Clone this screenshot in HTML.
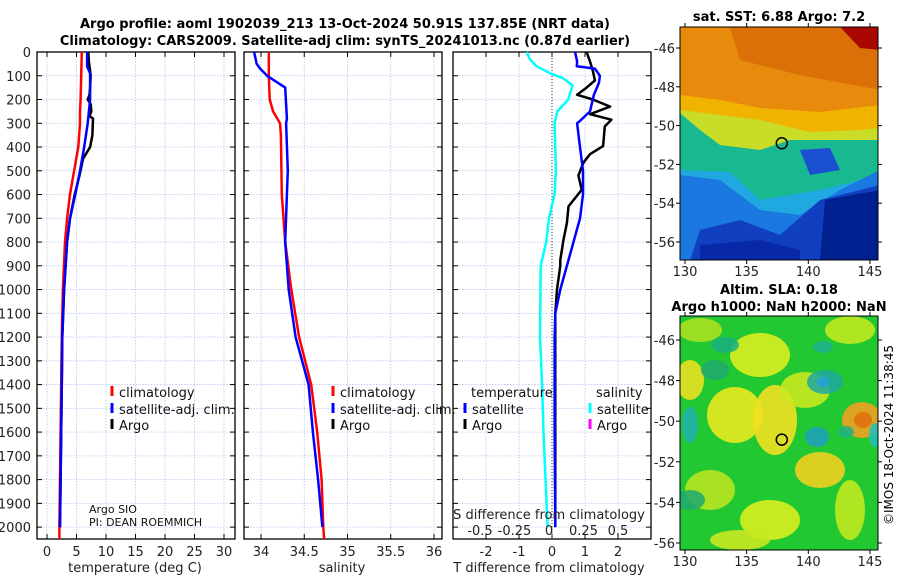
<!DOCTYPE html>
<html><head><meta charset="utf-8"><style>
html,body{margin:0;padding:0;background:#fff;}
svg{display:block;font-family:"DejaVu Sans","Liberation Sans",sans-serif;}
</style></head><body>
<svg id="fig" width="900" height="580" viewBox="0 0 900 580">
<g id="titles" font-weight="bold" font-size="13" text-anchor="middle" fill="#000">
<text x="345" y="28">Argo profile: aoml 1902039_213 13-Oct-2024 50.91S 137.85E (NRT data)</text>
<text x="345" y="45">Climatology: CARS2009. Satellite-adj clim: synTS_20241013.nc (0.87d earlier)</text>
<text x="779" y="21">sat. SST: 6.88 Argo: 7.2</text>
<text x="779" y="294">Altim. SLA: 0.18</text>
<text x="779" y="311">Argo h1000: NaN h2000: NaN</text>
</g>
<g id="panels"></g>
<g id="maps"></g>
<text transform="translate(893,435) rotate(-90)" text-anchor="middle" font-size="12">©IMOS 18-Oct-2024 11:38:45</text>
</svg>
<script>
// ---- data ----
const depthTicks = [0,100,200,300,400,500,600,700,800,900,1000,1100,1200,1300,1400,1500,1600,1700,1800,1900,2000];
const tempTicks = [0,5,10,15,20,25,30];
const salTicks = [34,34.5,35,35.5,36];
const tdiffTicks = [-2,-1,0,1,2];
const sdiffTicks = [-0.5,-0.25,0,0.25,0.5];

const tClimDepth = [0,100,200,250,300,400,500,600,700,800,1000,1200,1400,1600,1800,2000,2050];
const tClimVal   = [5.9,5.8,5.7,5.6,5.6,5.3,4.6,3.9,3.4,3.05,2.7,2.5,2.4,2.3,2.2,2.1,2.1];
const tSatDepth = [0,60,90,200,300,400,500,600,700,800,1000,1200,1400,1600,1800,2000];
const tSatVal   = [6.8,6.8,7.3,7.3,6.9,6.3,5.6,4.8,3.9,3.4,2.9,2.6,2.5,2.4,2.3,2.2];
const tArgoDepth = [0,40,100,150,180,200,220,250,270,280,350,400,450,520,600,700,800,1000,1200,1400,1600,1800,2000];
const tArgoVal   = [7.0,7.1,7.4,7.3,7.2,6.9,7.4,7.5,7.2,7.8,7.7,7.3,6.1,5.5,4.7,3.9,3.4,2.9,2.6,2.5,2.4,2.3,2.2];

const sClimDepth = [0,100,200,250,300,350,600,800,1000,1200,1400,1600,1800,2000,2050];
const sClimVal   = [34.09,34.09,34.1,34.14,34.22,34.23,34.24,34.28,34.35,34.44,34.58,34.65,34.70,34.72,34.73];
const sSatDepth = [0,50,70,100,150,280,300,500,600,800,1000,1200,1400,1600,1800,2000];
const sSatVal   = [33.92,33.95,33.99,34.07,34.28,34.3,34.29,34.31,34.3,34.28,34.32,34.4,34.55,34.6,34.66,34.71];

const dTSatDepth = [0,40,60,70,100,130,180,250,290,300,400,500,600,700,800,900,1000,1100,1200,1600,2000];
const dTSatVal   = [0.7,0.76,0.75,1.3,1.45,1.42,1.27,1.15,0.85,0.76,0.85,0.94,0.94,0.85,0.65,0.45,0.25,0.1,0.08,0.08,0.1];
const dTArgoDepth = [0,40,80,120,150,180,200,230,262,285,313,396,430,466,520,580,650,720,790,875,900,1000,1100,1400,2000];
const dTArgoVal   = [1.05,1.15,1.24,1.3,1.05,0.76,1.24,1.76,1.15,1.8,1.6,1.55,1.15,0.95,0.8,0.9,0.5,0.45,0.35,0.25,0.25,0.15,0.1,0.1,0.1];
const dSSatDepth = [0,30,60,90,110,140,200,250,300,500,600,700,800,900,1200,1400,1600,2000];
const dSSatVal   = [-0.16,-0.14,-0.09,0.01,0.1,0.17,0.14,0.06,0.04,0.05,0.04,0.0,-0.02,-0.06,-0.065,-0.05,-0.04,-0.01];

// ---- geometry ----
const NS='http://www.w3.org/2000/svg';
const TOP=52, BOT=539, DMAX=2050;
const yD = d => TOP + d*(BOT-TOP)/DMAX;
const panels = [
 {x0:37,x1:235,name:'temperature-panel'},
 {x0:244,x1:442,name:'salinity-panel'},
 {x0:453,x1:651,name:'difference-panel'}
];
const xT = v => 47 + v*5.9;
const xS = v => 261 + (v-34)*86.5;
const xDT = v => 552 + v*33;
const xDS = v => 549 + v*138;
const root=document.getElementById('panels');
function el(tag,attrs,parent){const e=document.createElementNS(NS,tag);for(const k in attrs)e.setAttribute(k,attrs[k]);(parent||root).appendChild(e);return e;}
function txt(s,x,y,attrs,parent){const t=el('text',Object.assign({x:x,y:y},attrs||{}),parent);t.textContent=s;return t;}

panels.forEach((p,i)=>{
  const g=el('g',{});
  
  
  // horizontal grid
  depthTicks.forEach(d=>{
    const l=el('line',{x1:p.x0,x2:p.x1,y1:yD(d),y2:yD(d),stroke:'#b8c4f0','stroke-width':0.8,'stroke-dasharray':'1.5,1.5'},g);
    
    
    el('line',{x1:p.x0,x2:p.x0+5,y1:yD(d),y2:yD(d),stroke:'#000'},g);
    el('line',{x1:p.x1,x2:p.x1-5,y1:yD(d),y2:yD(d),stroke:'#000'},g);
  });
  const ticks = i==0?tempTicks:i==1?salTicks:tdiffTicks;
  const fx = i==0?xT:i==1?xS:xDT;
  ticks.forEach(v=>{
    const x=fx(v);
    el('line',{x1:x,x2:x,y1:TOP,y2:BOT,stroke:'#b8c4f0','stroke-width':0.8,'stroke-dasharray':'1.5,1.5'},g);
    el('line',{x1:x,x2:x,y1:BOT,y2:BOT-5,stroke:'#000'},g);
    el('line',{x1:x,x2:x,y1:TOP,y2:TOP+5,stroke:'#000'},g);
    const t=txt(String(v),x,556,{'font-size':13,'text-anchor':'middle',fill:'#222'},g);
    
    
  });
  const fr=el('rect',{x:p.x0,y:TOP,width:p.x1-p.x0,height:BOT-TOP,fill:'none',stroke:'#000','stroke-width':1.3},g);
  
  
});
// y tick labels
depthTicks.forEach(d=>{
  const t=txt(String(d),31,yD(d)+5,{'font-size':13,'text-anchor':'end',fill:'#222'});
  
  
});
// x axis titles
[['temperature (deg C)',135,'temperature-axis-title'],['salinity',342,'salinity-axis-title'],['T difference from climatology',549,'t-diff-axis-title']].forEach(a=>{
  const t=txt(a[0],a[1],572,{'font-size':13,'text-anchor':'middle',fill:'#222'});
  
  
});
// zero line in diff panel
const zl=el('line',{x1:xDT(0),x2:xDT(0),y1:TOP,y2:BOT,stroke:'#333','stroke-width':1,'stroke-dasharray':'1,2'});



function series(depths,vals,fx,color,name,w){
  const pts=depths.map((d,k)=>fx(vals[k]).toFixed(1)+','+yD(d).toFixed(1)).join(' ');
  const pl=el('polyline',{points:pts,fill:'none',stroke:color,'stroke-width':w||2.5,'stroke-linejoin':'round'});
  
  
}
series(tClimDepth,tClimVal,xT,'#ff0000','temp-climatology-line');
series(tArgoDepth,tArgoVal,xT,'#000000','temp-argo-line');
series(tSatDepth,tSatVal,xT,'#0000ff','temp-satellite-line');
series(sClimDepth,sClimVal,xS,'#ff0000','sal-climatology-line');
series(sSatDepth,sSatVal,xS,'#0000ff','sal-satellite-line');
series(dSSatDepth,dSSatVal,xDS,'#00ffff','sdiff-satellite-line');
series(dTArgoDepth,dTArgoVal,xDT,'#000000','tdiff-argo-line');
series(dTSatDepth,dTSatVal,xDT,'#0000ff','tdiff-satellite-line');

// S diff axis inside
const sdt=txt('S difference from climatology',549,519,{'font-size':13,'text-anchor':'middle',fill:'#222'});


sdiffTicks.forEach(v=>{
  const t=txt(String(v),xDS(v),535,{'font-size':13,'text-anchor':'middle',fill:'#222'});
  
  
});

// legends
function legend(x,y,color,label,name){
  const g=el('g',{});
  
  
  el('line',{x1:x,x2:x,y1:y-6,y2:y+4,stroke:color,'stroke-width':3},g);
  txt(label,x+7,y+5,{'font-size':13,fill:'#111'},g);
}
legend(112,392,'#ff0000','climatology','legend-temp-climatology');
legend(112,409,'#0000ff','satellite-adj. clim.','legend-temp-satellite');
legend(112,425,'#000000','Argo','legend-temp-argo');
legend(333,392,'#ff0000','climatology','legend-sal-climatology');
legend(333,409,'#0000ff','satellite-adj. clim.','legend-sal-satellite');
legend(333,425,'#000000','Argo','legend-sal-argo');
const lh1=txt('temperature',471,397,{'font-size':13,fill:'#111'});


const lh2=txt('salinity',596,397,{'font-size':13,fill:'#111'});


legend(465,409,'#0000ff','satellite','legend-tdiff-satellite');
legend(465,425,'#000000','Argo','legend-tdiff-argo');
legend(590,409,'#00ffff','satellite','legend-sdiff-satellite');
legend(590,425,'#ff00ff','Argo','legend-sdiff-argo');
const pi1=txt('Argo SIO',89,513,{'font-size':11,fill:'#111'});


const pi2=txt('PI: DEAN ROEMMICH',89,526,{'font-size':11,fill:'#111'});



// ---- maps ----
const M=document.getElementById('maps');
const latTicks=[-46,-48,-50,-52,-54,-56];
const lonTicks=[130,135,140,145];
const mapX0=680, mapX1=878;
const xLon = v => 685 + (v-130)*12.33;
function drawMap(y0,y1,ylat,shapes,name,markLat,markLon){
  const g=el('g',{},M);
  
  
  const cp='clip-'+name;
  const c=el('clipPath',{id:cp},g);
  el('rect',{x:mapX0,y:y0,width:mapX1-mapX0,height:y1-y0},c);
  const s=el('g',{'clip-path':'url(#'+cp+')'},g);
  shapes(s,y0,y1);
  el('rect',{x:mapX0,y:y0,width:mapX1-mapX0,height:y1-y0,fill:'none',stroke:'#000','stroke-width':1},g);
  latTicks.forEach(v=>{
    const y=ylat(v);
    el('line',{x1:mapX0-4,x2:mapX0,y1:y,y2:y,stroke:'#000'},g);
    el('line',{x1:mapX1,x2:mapX1+4,y1:y,y2:y,stroke:'#000'},g);
    const t=txt(String(v),675,y+5,{'font-size':13,'text-anchor':'end',fill:'#222'},g);
    
    
  });
  lonTicks.forEach(v=>{
    const x=xLon(v);
    el('line',{x1:x,x2:x,y1:y1,y2:y1+4,stroke:'#000'},g);
    el('line',{x1:x,x2:x,y1:y0,y2:y0-4,stroke:'#000'},g);
    const t=txt(String(v),x,y1+16,{'font-size':13,'text-anchor':'middle',fill:'#222'},g);
    
    
  });
  const m=el('circle',{cx:xLon(markLon),cy:ylat(markLat),r:5.5,fill:'none',stroke:'#000','stroke-width':1.5},g);
  
  
}
const ylat1 = v => 48 + (-46-v)*19.4;
const ylat2 = v => 340 + (-46-v)*20.3;
drawMap(27,260,ylat1,(s)=>{
  el('rect',{x:680,y:27,width:200,height:235,fill:'#e88a0c'},s);
  el('polygon',{points:'730,27 880,27 880,90 800,75 740,60',fill:'#dc7008'},s);
  el('polygon',{points:'840,27 880,27 880,50 860,48',fill:'#a80800'},s);
  el('polygon',{points:'680,95 720,100 760,108 820,112 880,105 880,130 800,135 680,130',fill:'#f0b400'},s);
  el('polygon',{points:'680,110 760,120 810,132 860,130 880,128 880,150 820,160 760,170 680,160',fill:'#c8dc28'},s);
  el('polygon',{points:'680,113 700,130 720,145 760,150 790,140 830,140 880,140 880,260 680,260',fill:'#18b890'},s);
  el('polygon',{points:'680,170 730,172 760,200 820,190 880,175 880,260 680,260',fill:'#20a8e0'},s);
  el('polygon',{points:'680,175 720,180 760,210 800,215 840,190 880,170 880,260 680,260',fill:'#1a78e0'},s);
  el('polygon',{points:'800,150 830,148 840,170 810,175',fill:'#1a50d0'},s);
  el('polygon',{points:'700,230 740,220 780,235 820,200 880,185 880,260 690,260',fill:'#1040c0'},s);
  el('polygon',{points:'825,200 880,190 880,260 820,260',fill:'#002090'},s);
  el('polygon',{points:'700,245 760,240 800,250 800,260 700,260',fill:'#0828a8'},s);
},'sst-map',-50.91,137.85);
drawMap(316,550,ylat2,(s)=>{
  el('rect',{x:680,y:316,width:200,height:236,fill:'#22c832'},s);
  const blobs=[
   [700,330,22,12,'#a8e020'],[760,355,30,22,'#d8ee20'],[850,330,25,14,'#c0e820'],
   [690,380,14,20,'#e8e020'],[735,415,28,28,'#e8e820'],[775,420,22,35,'#f0e020'],
   [805,390,25,18,'#c8e820'],[862,420,20,18,'#f0a020'],[863,420,9,8,'#e07010'],
   [820,470,25,18,'#f0d020'],[770,520,30,20,'#d8ee20'],[850,510,15,30,'#c0e820'],
   [710,490,25,20,'#b8e420'],[740,540,30,10,'#c8e820']];
  blobs.forEach(b=>el('ellipse',{cx:b[0],cy:b[1],rx:b[2],ry:b[3],fill:b[4],opacity:0.9},s));
  const cyan=[[725,345,14,8,'#18b080'],[823,347,10,6,'#20b090'],[825,382,18,12,'#20a8a0'],
   [823,382,6,5,'#20a0e0'],[715,370,14,10,'#20a870'],[690,425,8,18,'#20b0b0'],
   [817,437,12,10,'#20a0c0'],[690,500,15,10,'#20a870'],[875,435,6,12,'#20c0c0'],[846,432,8,6,'#20b080']];
  cyan.forEach(b=>el('ellipse',{cx:b[0],cy:b[1],rx:b[2],ry:b[3],fill:b[4],opacity:0.85},s));
},'sla-map',-50.91,137.85);
</script>
</body></html>
